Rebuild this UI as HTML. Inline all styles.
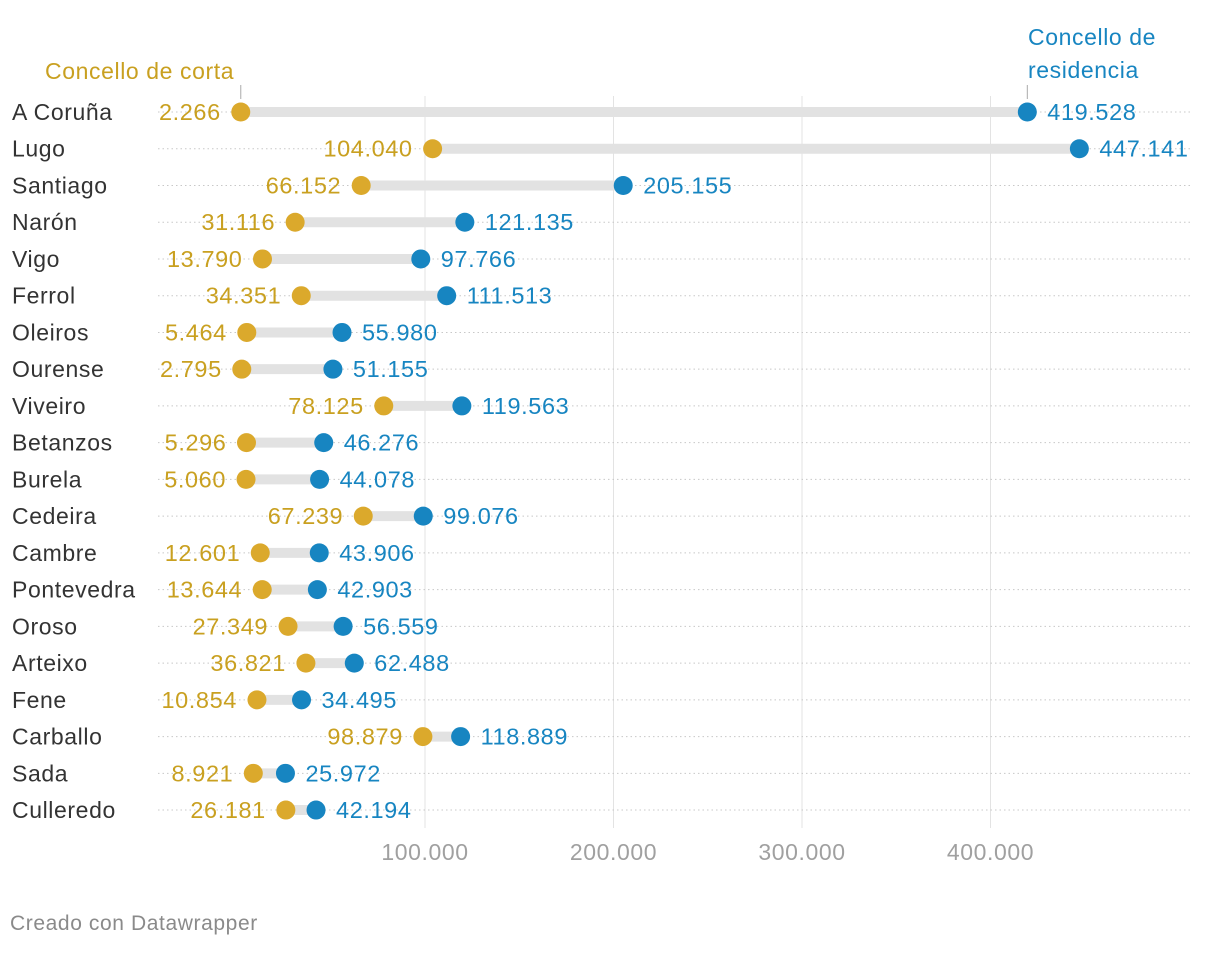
<!DOCTYPE html>
<html><head><meta charset="utf-8"><style>
body{margin:0;background:#fff;width:1220px;height:948px;overflow:hidden;font-family:"Liberation Sans",sans-serif}
text{letter-spacing:0.6px}
</style></head><body>
<svg id="chart" width="1220" height="948" xmlns="http://www.w3.org/2000/svg" font-family="Liberation Sans, sans-serif"></svg>
<script>
const categories=["A Coruña","Lugo","Santiago","Narón","Vigo","Ferrol","Oleiros","Ourense","Viveiro","Betanzos","Burela","Cedeira","Cambre","Pontevedra","Oroso","Arteixo","Fene","Carballo","Sada","Culleredo"];
const corta=[2266,104040,66152,31116,13790,34351,5464,2795,78125,5296,5060,67239,12601,13644,27349,36821,10854,98879,8921,26181];
const residencia=[419528,447141,205155,121135,97766,111513,55980,51155,119563,46276,44078,99076,43906,42903,56559,62488,34495,118889,25972,42194];
const ticks=[100000,200000,300000,400000];
const tickLabels=["100.000","200.000","300.000","400.000"];
const svg=document.getElementById('chart');const NS="http://www.w3.org/2000/svg";
const x=v=>236.5+v*0.001885;const y=i=>112+i*36.74;
const fmt=v=>v.toLocaleString('de-DE');
function el(t,a,txt){const e=document.createElementNS(NS,t);for(const k in a)e.setAttribute(k,a[k]);if(txt!==undefined)e.textContent=txt;svg.appendChild(e);return e;}
ticks.forEach((t,i)=>{const g=el('line',{x1:x(t),x2:x(t),y1:96,y2:828,stroke:'#e3e3e3','stroke-width':1});

const l=el('text',{x:x(t),y:860,'text-anchor':'middle','font-size':23,fill:'#a0a0a0'},tickLabels[i]);
});
categories.forEach((c,i)=>{const yy=y(i);
const rl=el('line',{x1:158,x2:1190,y1:yy,y2:yy,stroke:'#c8c8c8','stroke-width':1,'stroke-dasharray':'1.5 3'});

const lb=el('text',{x:12,y:yy+8,'font-size':23,fill:'#333'},c);

const a=x(corta[i]),b=x(residencia[i]);
const bar=el('line',{x1:a,x2:b,y1:yy,y2:yy,stroke:'#e2e2e2','stroke-width':10});

const d1=el('circle',{cx:a,cy:yy,r:9.5,fill:'#dba92c'});

const d2=el('circle',{cx:b,cy:yy,r:9.5,fill:'#1785c1'});

const t1=el('text',{x:a-20,y:yy+8,'text-anchor':'end','font-size':23.5,fill:'#c9a020'},fmt(corta[i]));

const t2=el('text',{x:b+20,y:yy+8,'font-size':23.5,fill:'#1785c1'},fmt(residencia[i]));
});
const h1=el('text',{x:45,y:79,'font-size':23,fill:'#c9a020'},"Concello de corta");

el('line',{x1:x(corta[0]),x2:x(corta[0]),y1:85,y2:99,stroke:'#aaa','stroke-width':1});
const h2=el('text',{x:1028,y:45,'font-size':23,fill:'#1785c1'},"Concello de");

el('text',{x:1028,y:78,'font-size':23,fill:'#1785c1'},"residencia");
el('line',{x1:x(residencia[0]),x2:x(residencia[0]),y1:85,y2:99,stroke:'#aaa','stroke-width':1});
const f=el('text',{x:10,y:930,'font-size':21,fill:'#8a8a8a'},"Creado con Datawrapper");

</script></body></html>
